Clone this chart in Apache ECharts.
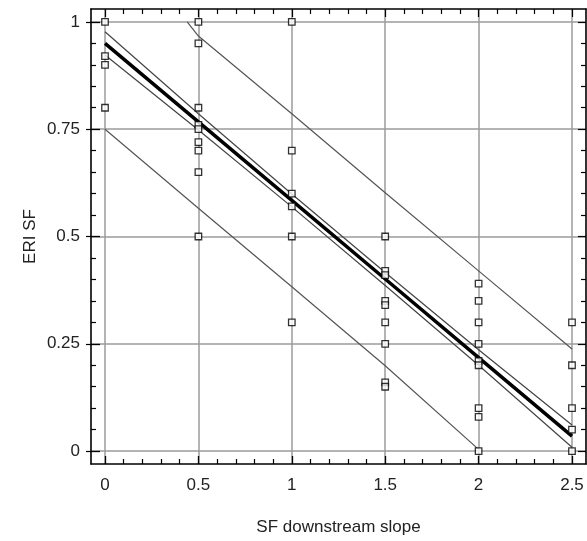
<!DOCTYPE html>
<html>
<head>
<meta charset="utf-8">
<script src="https://cdn.jsdelivr.net/npm/echarts@6/dist/echarts.min.js"></script>
<style>
  html, body { margin: 0; padding: 0; background: #fff; }
  #chart { width: 587px; height: 541px; }
</style>
</head>
<body>
<div id="chart"></div>
<script>
// tick values
const majorX = [0, 0.5, 1, 1.5, 2, 2.5];
const minorX = [0.1, 0.2, 0.3, 0.4, 0.6, 0.7, 0.8, 0.9, 1.1, 1.2, 1.3, 1.4,
  1.6, 1.7, 1.8, 1.9, 2.1, 2.2, 2.3, 2.4];
const majorY = [0, 0.25, 0.5, 0.75, 1];
const minorY = [0.05, 0.1, 0.15, 0.2, 0.3, 0.35, 0.4, 0.45, 0.55, 0.6, 0.65, 0.7,
  0.8, 0.85, 0.9, 0.95];

// observed ERI SF values, grouped by SF downstream slope
const slopeLevels = [0, 0.5, 1, 1.5, 2, 2.5];
const eriAt0 = [1.0, 0.92, 0.9, 0.8];
const eriAt05 = [1.0, 0.95, 0.8, 0.76, 0.75, 0.72, 0.7, 0.65, 0.5];
const eriAt1 = [1.0, 0.7, 0.6, 0.57, 0.5, 0.3];
const eriAt15 = [0.5, 0.42, 0.41, 0.35, 0.34, 0.3, 0.25, 0.16, 0.15];
const eriAt2 = [0.39, 0.35, 0.3, 0.25, 0.21, 0.2, 0.1, 0.08, 0.0];
const eriAt25 = [0.3, 0.2, 0.1, 0.05, 0.0];

// fitted line and bands read at the grid lines
const bandX = [0, 0.5, 1, 1.5, 2, 2.5];
const fitY = [0.95, 0.767, 0.584, 0.401, 0.218, 0.035];
const confUpper = [0.977, 0.786, 0.599, 0.416, 0.236, 0.061];
const confLower = [0.923, 0.748, 0.569, 0.386, 0.2, 0.009];
const predUpperX = [0.44, 0.5, 1, 1.5, 2, 2.5];
const predUpperY = [1.0, 0.967, 0.786, 0.602, 0.42, 0.238];
const predLowerX = [0, 0.5, 1, 1.5, 2];
const predLowerY = [0.75, 0.566, 0.383, 0.199, 0.004];

const xMin = -0.075, xMax = 2.575;
const yMin = -0.03, yMax = 1.03;
const fontName = 'Liberation Sans';

const groups = [eriAt0, eriAt05, eriAt1, eriAt15, eriAt2, eriAt25];
const points = [];
groups.forEach((vals, i) => {
  vals.forEach(v => points.push([slopeLevels[i], v]));
});
const zip = (xs, ys) => xs.map((x, i) => [x, ys[i]]);

// extra axes that only draw ticks (minor ticks, grid lines, frame sides)
function tickAxis(kind, position, values, len, opts) {
  opts = opts || {};
  return {
    type: 'value',
    position: position,
    min: kind === 'x' ? xMin : yMin,
    max: kind === 'x' ? xMax : yMax,
    axisLine: {
      show: !!opts.line,
      onZero: false,
      lineStyle: { color: '#000', width: 1.6 }
    },
    axisLabel: { show: false },
    splitLine: { show: false },
    axisTick: {
      show: true,
      inside: opts.outside ? false : true,
      length: len,
      customValues: values,
      lineStyle: { color: opts.color || '#000', width: opts.width || 1.2 }
    },
    z: opts.z == null ? 1 : opts.z
  };
}

const chart = echarts.init(document.getElementById('chart'));

const option = {
  animation: false,
  backgroundColor: '#fff',
  grid: { left: 91, top: 9, width: 495, height: 455 },
  xAxis: [
    {
      type: 'value',
      position: 'bottom',
      min: xMin,
      max: xMax,
      name: 'SF downstream slope',
      nameLocation: 'middle',
      nameGap: 55,
      nameMoveOverlap: false,
      nameTextStyle: { fontFamily: fontName, fontSize: 17, color: '#222' },
      axisLine: { show: true, onZero: false, lineStyle: { color: '#000', width: 1.6 } },
      axisTick: { show: true, inside: true, length: 8, customValues: majorX,
        lineStyle: { color: '#000', width: 1.3 } },
      axisLabel: { customValues: majorX, margin: 13, fontFamily: fontName,
        fontSize: 17, color: '#222' },
      splitLine: { show: false },
      z: 2
    },
    tickAxis('x', 'bottom', minorX, 5),
    tickAxis('x', 'bottom', majorX, 455, { color: '#9c9c9c', width: 1.5, z: 0 }),
    tickAxis('x', 'top', majorX, 8, { line: true, z: 2 }),
    tickAxis('x', 'top', minorX, 5)
  ],
  yAxis: [
    {
      type: 'value',
      position: 'left',
      min: yMin,
      max: yMax,
      name: 'ERI SF',
      nameLocation: 'middle',
      nameGap: 52,
      nameMoveOverlap: false,
      nameTextStyle: { fontFamily: fontName, fontSize: 17, color: '#222' },
      axisLine: { show: true, onZero: false, lineStyle: { color: '#000', width: 1.6 } },
      axisTick: { show: true, inside: true, length: 9, customValues: majorY,
        lineStyle: { color: '#000', width: 1.3 } },
      axisLabel: { customValues: majorY, margin: 11, fontFamily: fontName,
        fontSize: 17, color: '#222' },
      splitLine: { show: false },
      z: 2
    },
    tickAxis('y', 'left', majorY, 5, { outside: true }),
    tickAxis('y', 'left', minorY, 5),
    tickAxis('y', 'left', majorY, 495, { color: '#9c9c9c', width: 1.5, z: 0 }),
    tickAxis('y', 'right', majorY, 8, { line: true, z: 2 }),
    tickAxis('y', 'right', minorY, 5)
  ],
  series: [
    {
      name: 'prediction upper',
      type: 'line',
      data: zip(predUpperX, predUpperY),
      symbol: 'none',
      lineStyle: { color: '#555', width: 1.2 },
      z: 2
    },
    {
      name: 'prediction lower',
      type: 'line',
      data: zip(predLowerX, predLowerY),
      symbol: 'none',
      lineStyle: { color: '#555', width: 1.2 },
      z: 2
    },
    {
      name: 'confidence upper',
      type: 'line',
      data: zip(bandX, confUpper),
      symbol: 'none',
      lineStyle: { color: '#444', width: 1.2 },
      z: 2
    },
    {
      name: 'confidence lower',
      type: 'line',
      data: zip(bandX, confLower),
      symbol: 'none',
      lineStyle: { color: '#444', width: 1.2 },
      z: 2
    },
    {
      name: 'fit',
      type: 'line',
      data: zip(bandX, fitY),
      symbol: 'none',
      lineStyle: { color: '#000', width: 3.5 },
      z: 3
    },
    {
      name: 'observed',
      type: 'scatter',
      data: points,
      symbol: 'rect',
      symbolSize: 6.5,
      itemStyle: { color: '#fff', borderColor: '#000', borderWidth: 1.3 },
      z: 4
    }
  ]
};

chart.setOption(option);
</script>
</body>
</html>
